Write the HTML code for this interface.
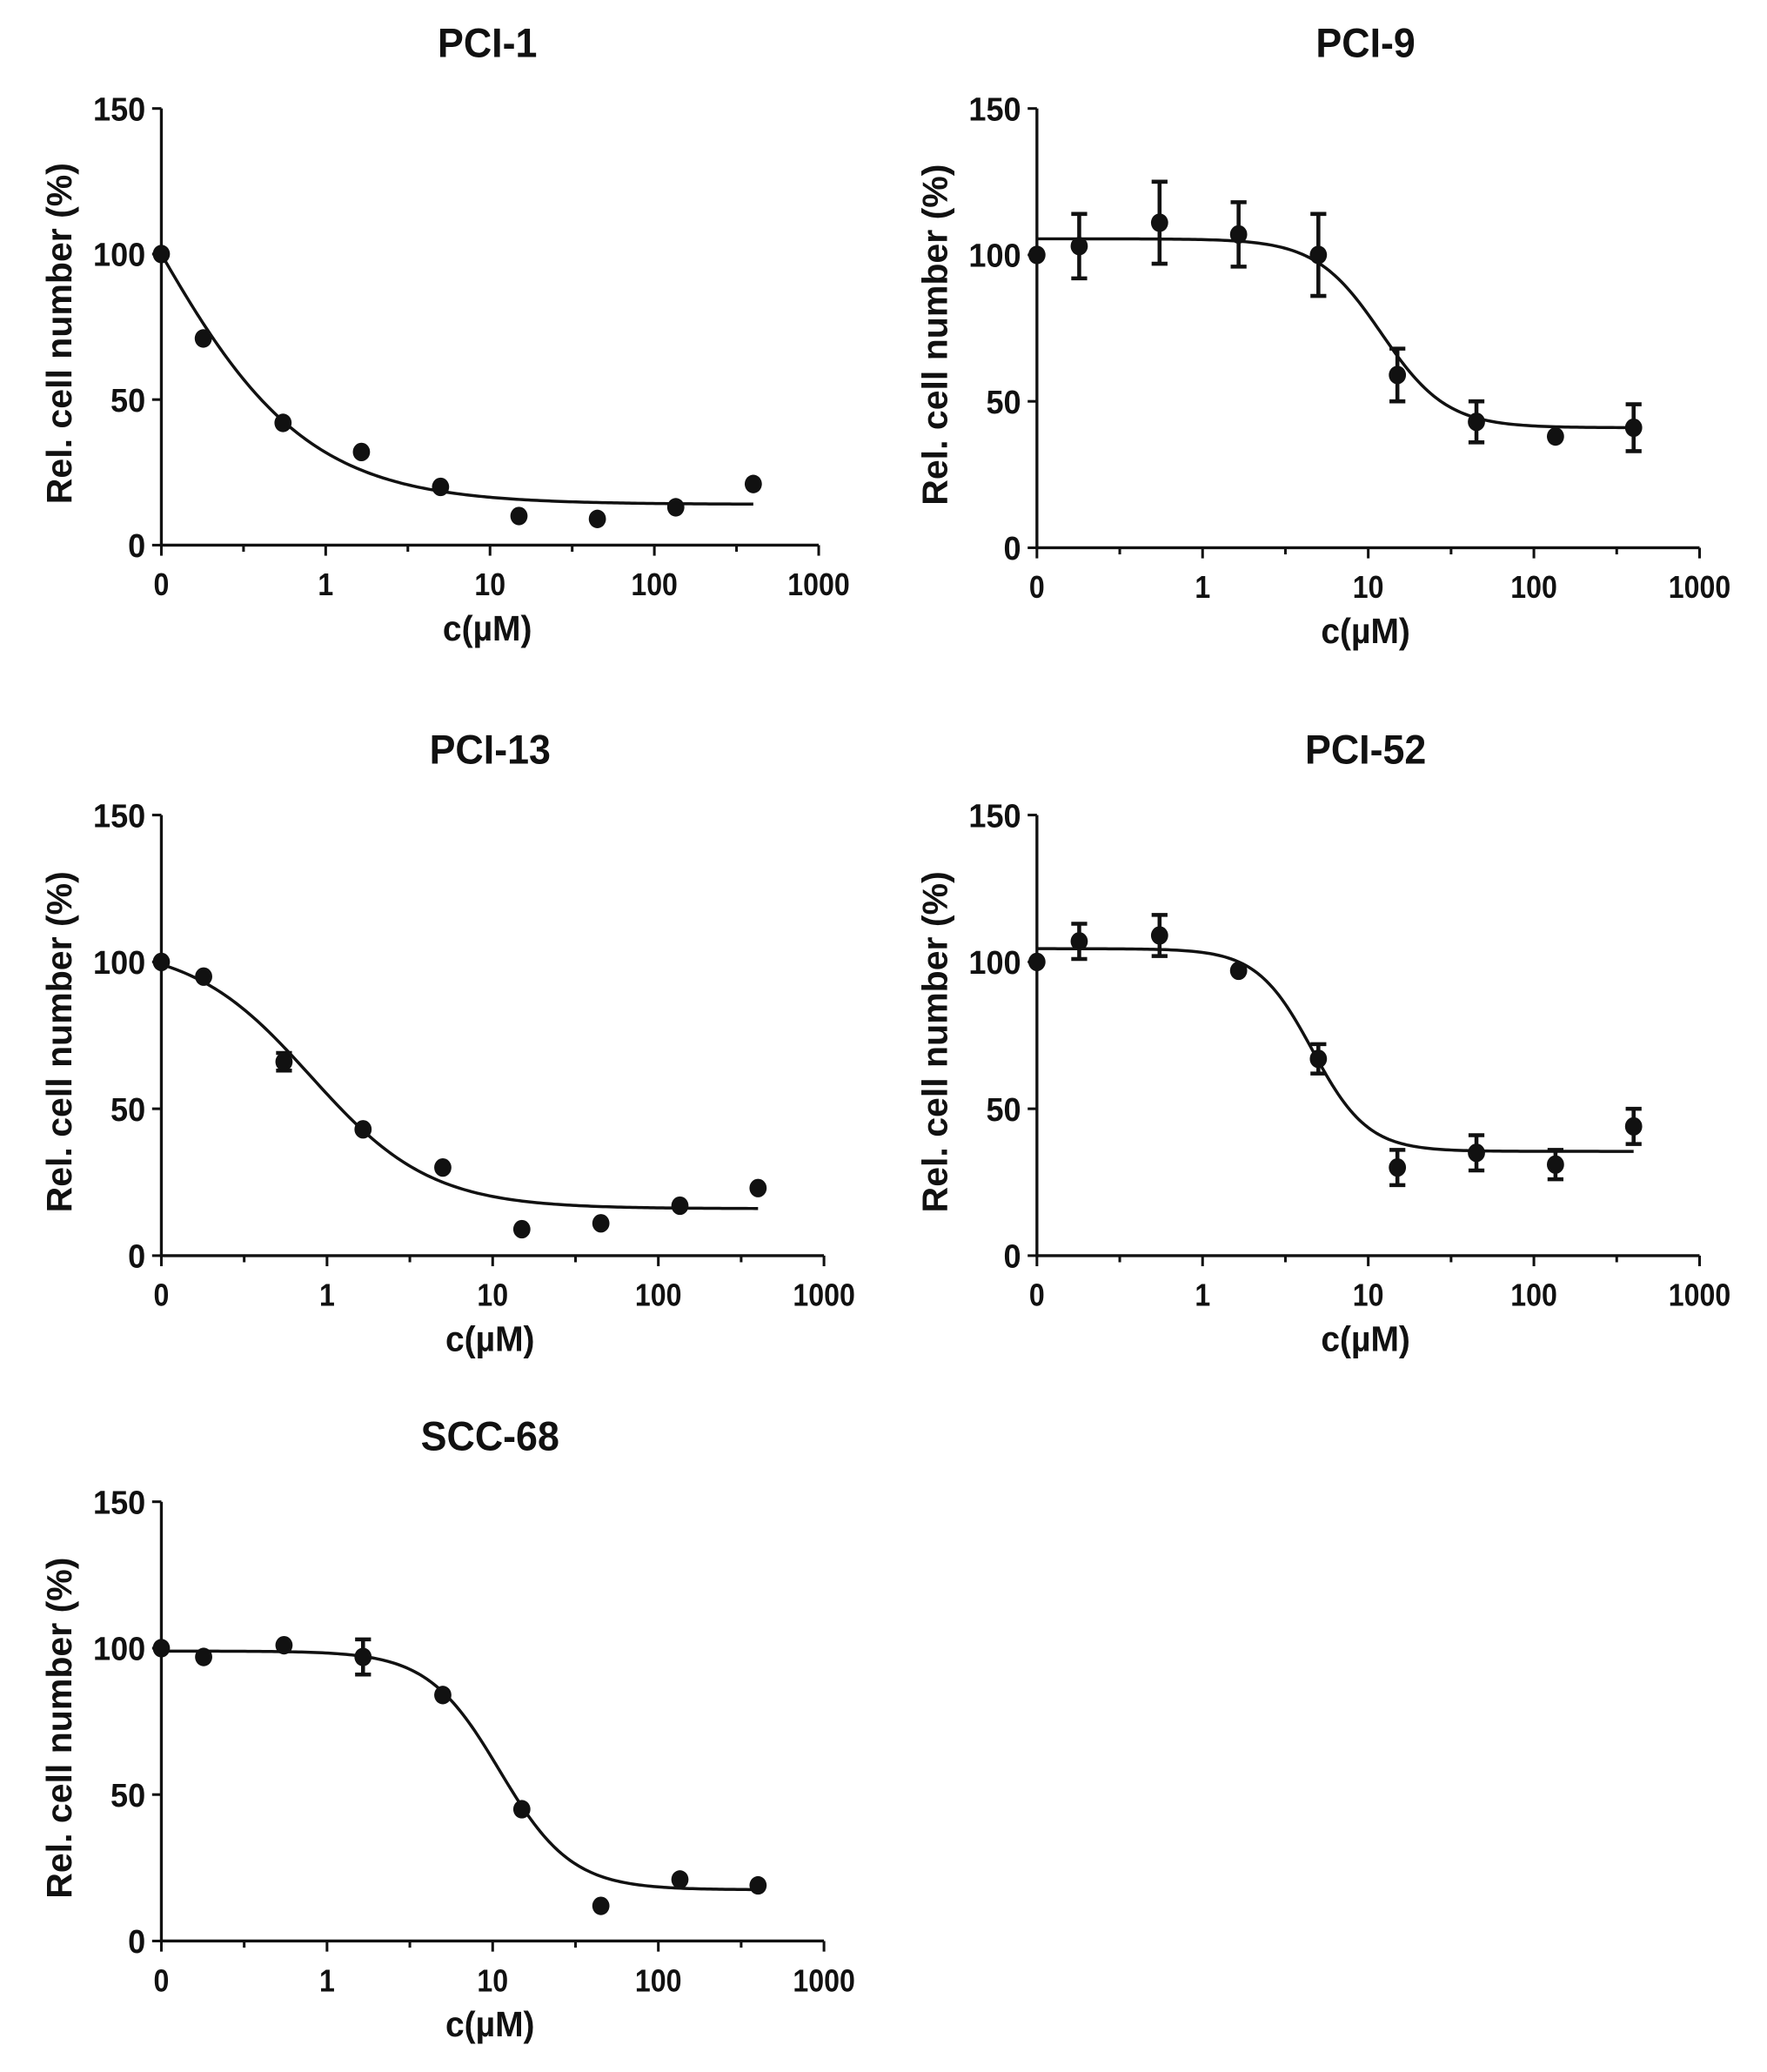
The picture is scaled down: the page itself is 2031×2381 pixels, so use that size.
<!DOCTYPE html>
<html><head><meta charset="utf-8"><style>
html,body{margin:0;padding:0;background:#fff;}
svg{display:block;}
text{font-family:"Liberation Sans",Arial,sans-serif;font-weight:bold;fill:#111;}
</style></head><body>
<svg id="fig" width="2031" height="2381" viewBox="0 0 1336 1566" preserveAspectRatio="none" xmlns="http://www.w3.org/2000/svg"></svg>
<script>
// shared x categories (doses, µM); 0 is plotted at the axis origin
const doses = [0, 0.18, 0.55, 1.65, 5, 15, 45, 135, 400];
const xTickLabels = ["0", "1", "10", "100", "1000"];
const yTickValues = [0, 50, 100, 150];
const titles = ["PCI-1", "PCI-9", "PCI-13", "PCI-52", "SCC-68"];
// series means
const meanPCI1  = [100, 71, 42, 32, 20, 10, 9, 13, 21];
const meanPCI9  = [100, 103, 111, 107, 100, 59, 43, 38, 41];
const meanPCI13 = [100, 95, 66, 43, 30, 9, 11, 17, 23];
const meanPCI52 = [100, 107, 109, 97, 67, 30, 35, 31, 44];
const meanSCC68 = [100, 97, 101, 97, 84, 45, 12, 21, 19];
// error (SD) values
const errPCI1  = [0, 0, 0, 0, 0, 0, 0, 0, 0];
const errPCI9  = [0, 11, 14, 11, 14, 9, 7, 0, 8];
const errPCI13 = [0, 0, 3, 0, 0, 0, 0, 0, 0];
const errPCI52 = [0, 6, 7, 0, 5, 6, 6, 5, 6];
const errSCC68 = [0, 0, 0, 6, 0, 0, 0, 0, 0];
// 4PL fit params: [top, bottom, ic50, hill]
const fitPCI1  = [205, 14, 0.08, 0.9];
const fitPCI9  = [105.5, 41, 12, 2.2];
const fitPCI13 = [106, 16, 0.8, 1.2];
const fitPCI52 = [104.5, 35.5, 4.6, 2.6];
const fitSCC68 = [99, 17.5, 11, 2.0];

const means = [meanPCI1, meanPCI9, meanPCI13, meanPCI52, meanSCC68];
const errs = [errPCI1, errPCI9, errPCI13, errPCI52, errSCC68];
const fits = [fitPCI1, fitPCI9, fitPCI13, fitPCI52, fitSCC68];
const panels = [
  {x0:122, x1:619, y150:82, y0:412},
  {x0:784, x1:1285, y150:82, y0:414},
  {x0:122, x1:623, y150:616, y0:949},
  {x0:784, x1:1285, y150:616, y0:949},
  {x0:122, x1:623, y150:1135, y0:1467}
];
const NS = "http://www.w3.org/2000/svg";
const svg = document.getElementById('fig');
function mk(tag, attrs, parent){const e=document.createElementNS(NS,tag);for(const k in attrs)e.setAttribute(k,attrs[k]);parent.appendChild(e);return e;}

panels.forEach((p, i) => {
  const g = mk('g', {}, svg);
  
  
  const dec = (p.x1 - p.x0) / 4;
  const xs = v => p.x0 + (Math.log10(Math.max(v, 0.1)) + 1) * dec;
  const ys = v => p.y0 - v * (p.y0 - p.y150) / 150;
  const cx = (p.x0 + p.x1) / 2;
  const t = mk('text', {x: 0, y: 0, 'text-anchor': 'middle', 'font-size': 31, transform:`translate(${cx-2} ${p.y150-39}) scale(0.95 1)`}, g);
  t.textContent = titles[i];
  
  
  // axes
  const ya = mk('line', {x1:p.x0, y1:p.y150, x2:p.x0, y2:p.y0+1, stroke:'#111', 'stroke-width':2.2}, g);
  
  
  const xa = mk('line', {x1:p.x0-1, y1:p.y0, x2:p.x1, y2:p.y0, stroke:'#111', 'stroke-width':2.2}, g);
  
  
  yTickValues.forEach(v => {
    mk('line', {x1:p.x0-7, y1:ys(v), x2:p.x0, y2:ys(v), stroke:'#111', 'stroke-width':2}, g);
    const tl = mk('text', {x:0, y:0, 'text-anchor':'end', 'font-size':25, transform:`translate(${p.x0-12} ${ys(v)+9}) scale(0.95 1)`}, g);
    tl.textContent = v;
    
    
  });
  xTickLabels.forEach((lab, k) => {
    const x = p.x0 + k * dec;
    mk('line', {x1:x, y1:p.y0, x2:x, y2:p.y0+8, stroke:'#111', 'stroke-width':2}, g);
    if (k < 4) mk('line', {x1:x+dec/2, y1:p.y0, x2:x+dec/2, y2:p.y0+5, stroke:'#111', 'stroke-width':2}, g);
    const tl = mk('text', {x:0, y:0, 'text-anchor':'middle', 'font-size':24, transform:`translate(${x} ${p.y0+38}) scale(0.88 1)`}, g);
    tl.textContent = lab;
    
    
  });
  const xl = mk('text', {x:0, y:0, 'text-anchor':'middle', 'font-size':27, transform:`translate(${cx-2} ${p.y0+72}) scale(0.95 1)`}, g);
  xl.textContent = 'c(µM)';
  
  
  const ymid = (p.y0 + p.y150) / 2 + 5;
  const yl = mk('text', {x:p.x0-77, y:ymid, 'text-anchor':'middle', 'font-size':27, transform:`rotate(-90 ${p.x0-77} ${ymid})`}, g);
  yl.setAttribute('dy', '9');
  yl.textContent = 'Rel. cell number (%)';
  
  
  // fit curve
  const [top, bot, ic, h] = fits[i];
  let d = '';
  for (let s = 0; s <= 200; s++) {
    const lx = -1 + s * (Math.log10(400) + 1) / 200;
    const c = Math.pow(10, lx);
    const y = bot + (top - bot) / (1 + Math.pow(c / ic, h));
    d += (s ? 'L' : 'M') + xs(c).toFixed(2) + ' ' + ys(y).toFixed(2);
  }
  const cv = mk('path', {d:d, fill:'none', stroke:'#111', 'stroke-width':2.3}, g);
  
  
  // points
  doses.forEach((dv, k) => {
    const x = xs(dv), y = ys(means[i][k]), e = errs[i][k];
    if (e > 0) {
      const eb = mk('path', {d:`M${x} ${ys(means[i][k]+e)}V${ys(means[i][k]-e)}M${x-6} ${ys(means[i][k]+e)}H${x+6}M${x-6} ${ys(means[i][k]-e)}H${x+6}`, stroke:'#111', 'stroke-width':3, fill:'none'}, g);
      
      
    }
    const pt = mk('ellipse', {cx:x, cy:y, rx:6.5, ry:7, fill:'#111'}, g);
    
    
  });
});
</script>
</body></html>
